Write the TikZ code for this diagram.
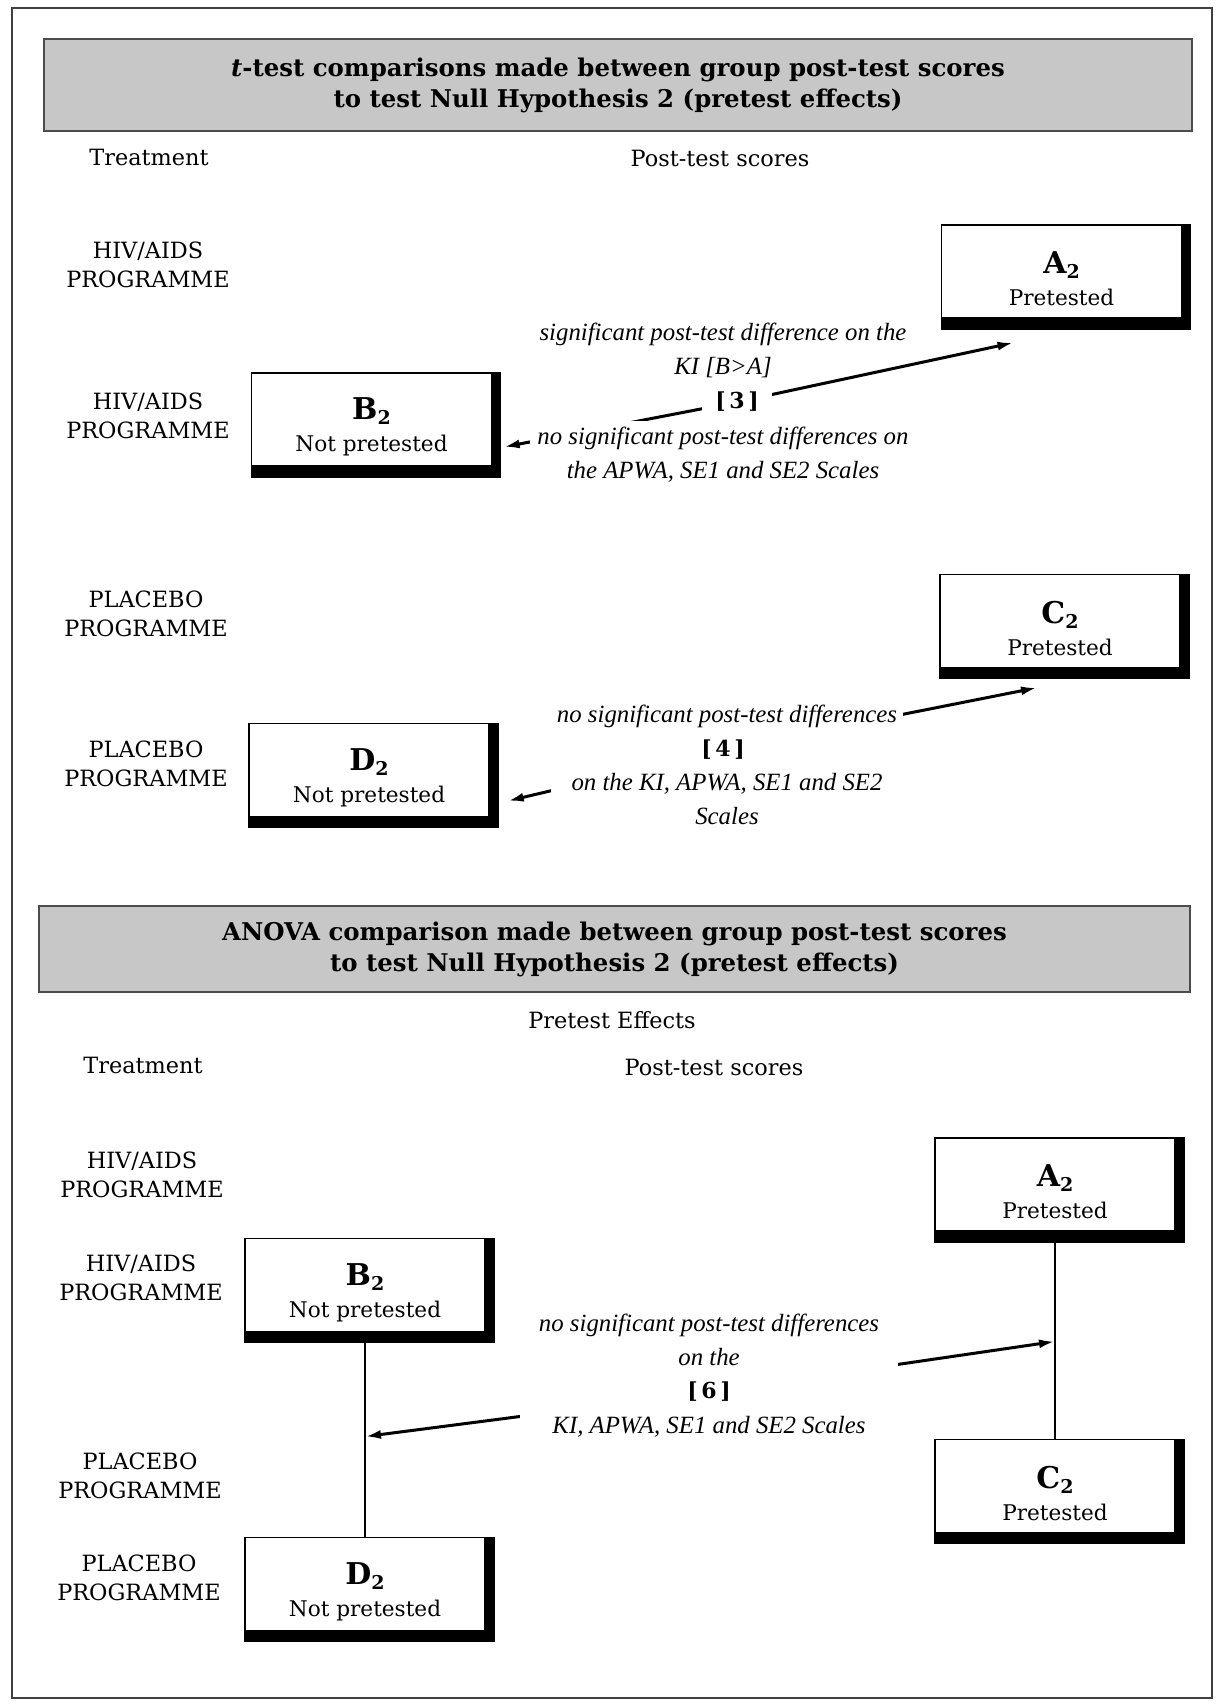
\documentclass[tikz,border=0pt]{standalone}
\usepackage{fontspec}
\setmainfont{DejaVu Serif}
\newfontfamily\notefont{Liberation Serif}
\usetikzlibrary{arrows.meta,calc}
\pgfdeclarelayer{background}
\pgfsetlayers{background,main}
% group letter with its bold subscript 2
\newcommand\grpname[1]{{\fontsize{15pt}{15pt}\selectfont\bfseries #1\raisebox{-2.5pt}{\fontsize{9.5pt}{9.5pt}\selectfont\bfseries 2}}}

\begin{document}
\begin{tikzpicture}[x=0.5pt,y=-0.5pt,
  frame/.style={draw=black!75,line width=0.75pt},
  banner/.style={draw=black!70,line width=0.8pt,fill=black!22,minimum width=574pt,
    minimum height=46pt,align=center,font=\fontsize{12.2pt}{15.5pt}\selectfont\bfseries},
  colhead/.style={font=\fontsize{11.2pt}{14pt}\selectfont},
  rowlab/.style={align=center,font=\fontsize{11.2pt}{14.5pt}\selectfont},
  grpbox/.style={draw=black,line width=0.7pt,fill=white,minimum width=120pt,
    minimum height=46.5pt,inner sep=0pt},
  grptxt/.style={align=center,font=\fontsize{10.8pt}{16pt}\selectfont},
  note/.style={align=center,font=\notefont\itshape\fontsize{12.4pt}{17pt}\selectfont},
  cover/.style={note,fill=white,inner xsep=0pt,inner ysep=3pt},
  tag/.style={font=\fontsize{11pt}{13pt}\selectfont\bfseries},
  link/.style={line width=1.5pt,-{Latex[length=8pt,width=4.5pt]}},
  joint/.style={line width=0.7pt}
]
\useasboundingbox (0,0) rectangle (1226,1704);
\begin{pgfonlayer}{background}
  \fill[white] (0,0) rectangle (1226,1704);
\end{pgfonlayer}
\draw[frame] (12,8) rectangle (1212,1698);

% ---------- t-test section ----------
\node[banner] (h1) at (618,85)
  {\textit{t}-test comparisons made between group post-test scores\\to test Null Hypothesis 2 (pretest effects)};
\node[colhead] (tr1) at (149,157) {Treatment};
\node[colhead] (ps1) at (720,158) {Post-test scores};

\node[rowlab] (r1) at (148,264.5) {HIV/AIDS\\PROGRAMME};
\node[rowlab] (r2) at (148,415.5) {HIV/AIDS\\PROGRAMME};
\node[rowlab] (r3) at (146,613.5) {PLACEBO\\PROGRAMME};
\node[rowlab] (r4) at (146,763.5) {PLACEBO\\PROGRAMME};

\node[grpbox] (a1) at (1061.5,271.5) {};
\node[grpbox] (b1) at (371.5,419.5) {};
\node[grpbox] (c2) at (1060,621) {};
\node[grpbox] (d2) at (369,770) {};

% ---------- ANOVA section ----------
\node[banner,minimum width=575.5pt,minimum height=43pt] (h2) at (614.5,949)
  {ANOVA comparison made between group post-test scores\\to test Null Hypothesis 2 (pretest effects)};
\node[colhead] (pe) at (612,1020) {Pretest Effects};
\node[colhead] (tr3) at (143,1065) {Treatment};
\node[colhead] (ps3) at (714,1067) {Post-test scores};

\node[rowlab] (r5) at (142,1174.5) {HIV/AIDS\\PROGRAMME};
\node[rowlab] (r6) at (141,1278) {HIV/AIDS\\PROGRAMME};
\node[rowlab] (r7) at (140,1475.5) {PLACEBO\\PROGRAMME};
\node[rowlab] (r8) at (139,1577.5) {PLACEBO\\PROGRAMME};

\node[grpbox] (a3) at (1055,1184.5) {};
\node[grpbox] (b3) at (365,1285) {};
\node[grpbox] (c3) at (1055,1486) {};
\node[grpbox] (d3) at (365,1584) {};

% heavy bottom and right edges of the group boxes
\foreach \b in {a1,b1,c2,d2,a3,b3,c3,d3}{
  \fill (\b.north east) rectangle ([shift={(9,11)}]\b.south east);
  \fill (\b.south west) rectangle ([shift={(9,11)}]\b.south east);
}

% group labels
\node[grptxt] (a1t) at ([yshift=-3.7pt]a1.center) {\grpname{A}\\Pretested};
\node[grptxt] (b1t) at ([yshift=-3.7pt]b1.center) {\grpname{B}\\Not pretested};
\node[grptxt] (c2t) at ([yshift=-3.7pt]c2.center) {\grpname{C}\\Pretested};
\node[grptxt] (d2t) at ([yshift=-3.7pt]d2.center) {\grpname{D}\\Not pretested};
\node[grptxt] (a3t) at ([yshift=-3.7pt]a3.center) {\grpname{A}\\Pretested};
\node[grptxt] (b3t) at ([yshift=-3.7pt]b3.center) {\grpname{B}\\Not pretested};
\node[grptxt] (c3t) at ([yshift=-3.7pt]c3.center) {\grpname{C}\\Pretested};
\node[grptxt] (d3t) at ([yshift=-3.7pt]d3.center) {\grpname{D}\\Not pretested};

% links between groups in the ANOVA section
\draw[joint] (a3.south) -- (c3.north);
\draw[joint] (b3.south) -- (d3.north);

% comparison notes
\node[note] (n1) at (723,350.5) {significant post-test difference on the\\KI [B>A]};
\node[cover,minimum width=193pt] (n2) at (723,455)
  {no significant post-test differences on\\the APWA, SE1 and SE2 Scales};
\node[cover,minimum width=176pt] (n3) at (727,765)
  {no significant post-test differences\\[17pt]on the KI, APWA, SE1 and SE2\\Scales};
\node[cover,minimum width=189pt] (n4) at (709,1376)
  {no significant post-test differences\\on the\\[17pt]KI, APWA, SE1 and SE2 Scales};

\node[tag,fill=white,minimum width=35pt] (k3) at (737,402) {[\,3\,]};
\node[tag] (k4) at (723,750) {[\,4\,]};
\node[tag] (k6) at (709,1392) {[\,6\,]};

% arrow ends
\coordinate (a1in) at ([shift={(-48,24)}]a1.south);
\coordinate (b1in) at ([shift={(11.5,27.5)}]b1.east);
\coordinate (c2in) at ([shift={(-23,19.5)}]c2.south);
\coordinate (d2in) at ([shift={(18,31)}]d2.east);
\coordinate (acj) at ($(a3.south)!0.53!(c3.north)$);
\coordinate (bdj) at ($(b3.south)!0.51!(d3.north)$);

% the arrows run behind the white note blocks
\begin{pgfonlayer}{background}
  \draw[link] (k3.center) -- (a1in);
  \draw[link] (k3.center) -- (b1in);
  \draw[link] (k4.center) -- (c2in);
  \draw[link] (k4.center) -- (d2in);
  \draw[link] (k6.center) -- (acj);
  \draw[link] (k6.center) -- (bdj);
\end{pgfonlayer}
\end{tikzpicture}
\end{document}
